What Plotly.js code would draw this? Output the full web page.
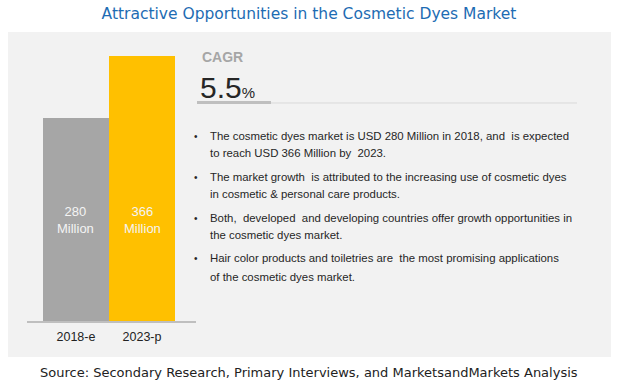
<!DOCTYPE html>
<html>
<head>
<meta charset="utf-8">
<script src="https://cdn.plot.ly/plotly-3.0.1.min.js"></script>
<style>html,body{margin:0;padding:0;background:#fff}#chart{width:618px;height:384px}</style>
</head>
<body>
<div id="chart"></div>
<script>
// ---- data ----
const categories = ["2018-e", "2023-p"];
const values = [280, 366];
const valueUnit = "Million";
const cagrLabel = "CAGR";
const cagrValue = "5.5";
const titleText = "Attractive Opportunities in the Cosmetic Dyes Market";
const sourceText = "Source: Secondary Research, Primary Interviews, and MarketsandMarkets Analysis";
const bulletLines = [
  ["The cosmetic dyes market is USD 280 Million in 2018, and  is expected", "to reach USD 366 Million by  2023."],
  ["The market growth  is attributed to the increasing use of cosmetic dyes", "in cosmetic & personal care products."],
  ["Both,  developed  and developing countries offer growth opportunities in", "the cosmetic dyes market."],
  ["Hair color products and toiletries are  the most promising applications", "of the cosmetic dyes market."]
];

// ---- styles ----
const barColors = ["#a6a6a6", "#ffc000"];
const W = 618, H = 384;
const px = x => x / W;
const py = y => 1 - y / H;

const sans = "'Liberation Sans', Arial, sans-serif";
const dejavu = "'DejaVu Sans', Verdana, sans-serif";

const annotations = [];
// bar value labels
categories.forEach((c, i) => {
  annotations.push({
    x: c, y: 140, xref: 'x', yref: 'y', showarrow: false,
    text: values[i] + "<br>" + valueUnit,
    font: {family: sans, size: 13, color: "#f4f4f4"},
    align: 'center', xanchor: 'center', yanchor: 'middle'
  });
});
// CAGR
annotations.push({
  x: px(200), y: py(57), xref: 'paper', yref: 'paper', showarrow: false,
  text: cagrLabel, xanchor: 'left', yanchor: 'middle',
  font: {family: sans, size: 14, color: "#a6a6a6", weight: 'bold'}
});
annotations.push({
  x: px(198), y: py(87), xref: 'paper', yref: 'paper', showarrow: false,
  text: cagrValue + "<span style='font-size:15px'>%</span>",
  xanchor: 'left', yanchor: 'middle',
  font: {family: sans, size: 30, color: "#262626"}
});
// bullets
const bulletY = [[136, 153], [177, 194], [218, 235], [258, 277]];
bulletLines.forEach((lines, i) => {
  annotations.push({
    x: px(192), y: py(bulletY[i][0]), xref: 'paper', yref: 'paper', showarrow: false,
    text: "•", xanchor: 'left', yanchor: 'middle',
    font: {family: sans, size: 10, color: "#262626"}
  });
  lines.forEach((ln, j) => {
    annotations.push({
      x: px(208), y: py(bulletY[i][j]), xref: 'paper', yref: 'paper', showarrow: false,
      text: ln, xanchor: 'left', yanchor: 'middle',
      font: {family: sans, size: 11.4, color: "#262626"}
    });
  });
});
// source
annotations.push({
  x: px(309), y: py(372), xref: 'paper', yref: 'paper', showarrow: false,
  text: sourceText, xanchor: 'center', yanchor: 'middle',
  font: {family: dejavu, size: 13, color: "#222222"}
});

const shapes = [
  {type: 'rect', xref: 'paper', yref: 'paper', x0: px(8), x1: px(611), y0: py(357), y1: py(32),
   fillcolor: "#f2f2f2", line: {width: 0}, layer: 'below'},
  {type: 'line', xref: 'paper', yref: 'paper', x0: px(197), x1: px(577), y0: py(103), y1: py(103),
   line: {color: "#d9d9d9", width: 1}},
  {type: 'line', xref: 'paper', yref: 'paper', x0: px(197), x1: px(271), y0: py(102.5), y1: py(102.5),
   line: {color: "#bfbfbf", width: 3}}
];

const scale = 265 / 366; // px per unit
const yMax = 400;
const topPx = 321 - yMax * scale;

const trace = {
  type: 'bar', x: categories, y: values,
  marker: {color: barColors, line: {width: 0}},
  width: 1, hoverinfo: 'none', textposition: 'none'
};

const layout = {
  width: W, height: H,
  margin: {l: 0, r: 0, t: 0, b: 0, pad: 0},
  paper_bgcolor: "#ffffff", plot_bgcolor: "rgba(0,0,0,0)",
  showlegend: false, bargap: 0,
  title: {text: titleText, x: 0.5, xanchor: 'center', xref: 'paper',
          y: py(14), yanchor: 'middle', yref: 'paper',
          font: {family: dejavu, size: 15.5, color: "#1d6cb3"}},
  xaxis: {domain: [px(27), px(196)], range: [-0.742, 1.818], type: 'category',
          showline: true, linecolor: "#bfbfbf", linewidth: 2, showgrid: false, zeroline: false,
          ticks: '', ticklabelstandoff: 3,
          tickfont: {family: sans, size: 12.5, color: "#222222"}, fixedrange: true},
  yaxis: {domain: [py(321), py(topPx)], range: [0, yMax], visible: false, fixedrange: true},
  shapes: shapes, annotations: annotations
};

Plotly.newPlot('chart', [trace], layout, {displayModeBar: false, staticPlot: true});
</script>
</body>
</html>
